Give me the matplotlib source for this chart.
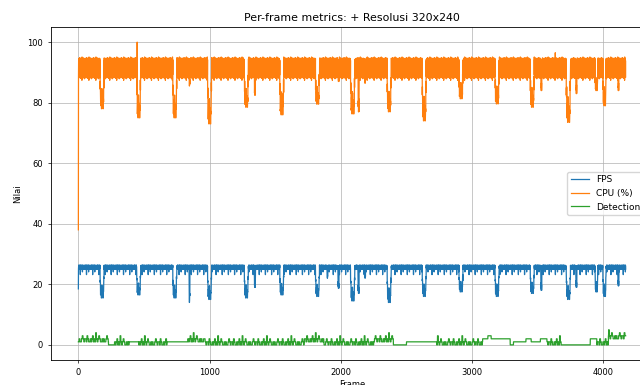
#!/usr/bin/env python3

import matplotlib
matplotlib.use('Agg')
import matplotlib.pyplot as plt
import numpy as np

# ---- values ----
n_frames = 4170
fps_first = 18.5
cpu_first = 38.0

# steady-state wiggle (typed by hand, repeated along the run)
fps_jitter = [26.2, 25.1, 26.0, 25.3, 26.4, 25.0, 26.1, 25.4, 26.3, 24.9,
              26.0, 25.2, 26.2, 25.5, 26.3, 23.2, 26.1, 25.0, 26.4, 25.3,
              25.9, 25.1, 26.2, 25.6, 26.3, 24.9, 26.0, 25.2, 26.1, 25.4,
              26.4, 24.1, 26.2, 25.0, 26.0, 25.3, 26.3, 25.1, 26.1, 25.5,
              26.2, 24.9, 26.3, 25.2, 26.0, 25.4, 26.1]
cpu_jitter = [94.3, 88.6, 93.9, 89.3, 94.6, 88.2, 94.0, 89.8, 94.4, 88.8,
              94.9, 88.4, 93.8, 89.1, 94.5, 88.7, 94.1, 89.4, 94.2, 88.0,
              94.7, 88.9, 93.7, 89.6, 94.5, 88.3, 94.0, 87.4, 95.1, 89.2,
              94.2, 88.7, 94.6, 89.0, 93.9, 88.5, 94.3, 89.7, 94.8, 88.2,
              94.1, 88.9, 94.4, 89.3, 93.8, 88.6, 94.6, 87.9, 94.2, 89.1,
              94.0, 88.4, 94.7]

# slow-downs: frame, lowest fps, lowest cpu, length in frames
dip_frame = [181, 460, 735, 847, 1000, 1280, 1345, 1550, 1822, 1898, 1982,
             2090, 2135, 2185, 2368, 2635, 2915, 3190, 3458, 3527, 3733,
             3794, 3947, 4008, 4114]
dip_fps = [15.5, 16.5, 15.5, 14.0, 15.0, 15.5, 19.0, 16.5, 16.0, 22.0, 18.7,
           14.5, 17.0, 22.0, 14.0, 16.0, 17.5, 16.0, 17.0, 18.0, 15.0,
           19.0, 17.5, 16.0, 19.5]
dip_cpu = [78.0, 75.0, 75.0, 85.5, 73.0, 78.5, 82.5, 76.0, 79.5, 88.0, 87.0,
           76.3, 77.0, 86.4, 77.0, 74.0, 81.3, 79.6, 78.5, 84.0, 73.5,
           83.0, 84.0, 79.0, 84.0]
dip_len = [30, 30, 30, 6, 30, 30, 8, 30, 30, 6, 8,
           32, 8, 6, 30, 30, 30, 30, 30, 8, 32,
           8, 20, 24, 8]
dip_shape = [0.45, 0.9, 0.7, 1.0, 0.6, 0.95, 0.75, 1.0, 0.8, 0.35]

cpu_peak_frame = [448, 3633]
cpu_peak_value = [100.0, 96.5]

# detections: segment start, base level, busy (1) or flat (0)
det_start = [0, 230, 270, 385, 460, 675, 830, 960, 1110, 1310, 1720, 1870,
             2250, 2400, 2500, 2730, 2990, 3080, 3120, 3145, 3290, 3315,
             3410, 3450, 3520, 3570, 3680, 3900, 3950, 4040]
det_level = [1, 0, 0, 1, 0, 1, 1, 0, 0, 0, 1, 0,
             1, 0, 1, 0, 0, 2, 3, 2, 0, 1,
             2, 1, 2, 0, 0, 2, 0, 2]
det_busy = [1, 0, 1, 0, 1, 0, 1, 1, 1, 1, 1, 1,
            1, 0, 0, 1, 1, 0, 0, 0, 0, 0,
            0, 0, 0, 1, 0, 0, 1, 1]
det_jitter = [0, 1, 0, 0, 1, 2, 1, 0, 1, 1, 0, 2, 1, 0, 0, 1, 0, 1, 2, 0,
              1, 0, 3, 1, 0, 1, 2, 1, 0, 0, 1]
det_hold = 6

# ---- build the series ----
frames = np.arange(n_frames)
fps = np.array([fps_jitter[i % len(fps_jitter)] for i in frames])
cpu = np.array([cpu_jitter[i % len(cpu_jitter)] for i in frames])
fps[0] = fps_first
cpu[0] = cpu_first

for f, fmin, cmin, w in zip(dip_frame, dip_fps, dip_cpu, dip_len):
    for k in range(w):
        j = f - w // 2 + k
        s = dip_shape[int(k * len(dip_shape) / w)]
        fps[j] = fmin + (1 - s) * (fps[j] - fmin)
        cpu[j] = cmin + (1 - s) * (cpu[j] - cmin)

for f, v in zip(cpu_peak_frame, cpu_peak_value):
    cpu[f] = v

det = np.zeros(n_frames)
ends = det_start[1:] + [n_frames]
for a, b, lv, busy in zip(det_start, ends, det_level, det_busy):
    for j in range(a, b):
        det[j] = lv + (det_jitter[(j // det_hold) % len(det_jitter)] if busy else 0)

# ---- draw ----
plt.rcParams['font.size'] = 6
fig = plt.figure(figsize=(6.4, 3.85), dpi=100)
ax = fig.add_axes([51 / 640, 25 / 385, 602 / 640, 333 / 385])
ax.plot(frames, fps, label='FPS', lw=0.9)
ax.plot(frames, cpu, label='CPU (%)', lw=0.9)
ax.plot(frames, det, label='Detections', lw=0.9)
ax.set_title('Per-frame metrics: + Resolusi 320x240', fontsize=7.9, pad=4)
ax.set_xlabel('Frame', labelpad=2)
ax.set_ylabel('Nilai')
ax.set_yticks([0, 20, 40, 60, 80, 100])
ax.set_xticks([0, 1000, 2000, 3000, 4000])
ax.grid(True, lw=0.5)
ax.legend(loc='center right', fontsize=6.5)
for sp in ax.spines.values():
    sp.set_linewidth(0.6)
ax.tick_params(width=0.5, length=2.2)

fig.savefig('out.png', dpi=100)
